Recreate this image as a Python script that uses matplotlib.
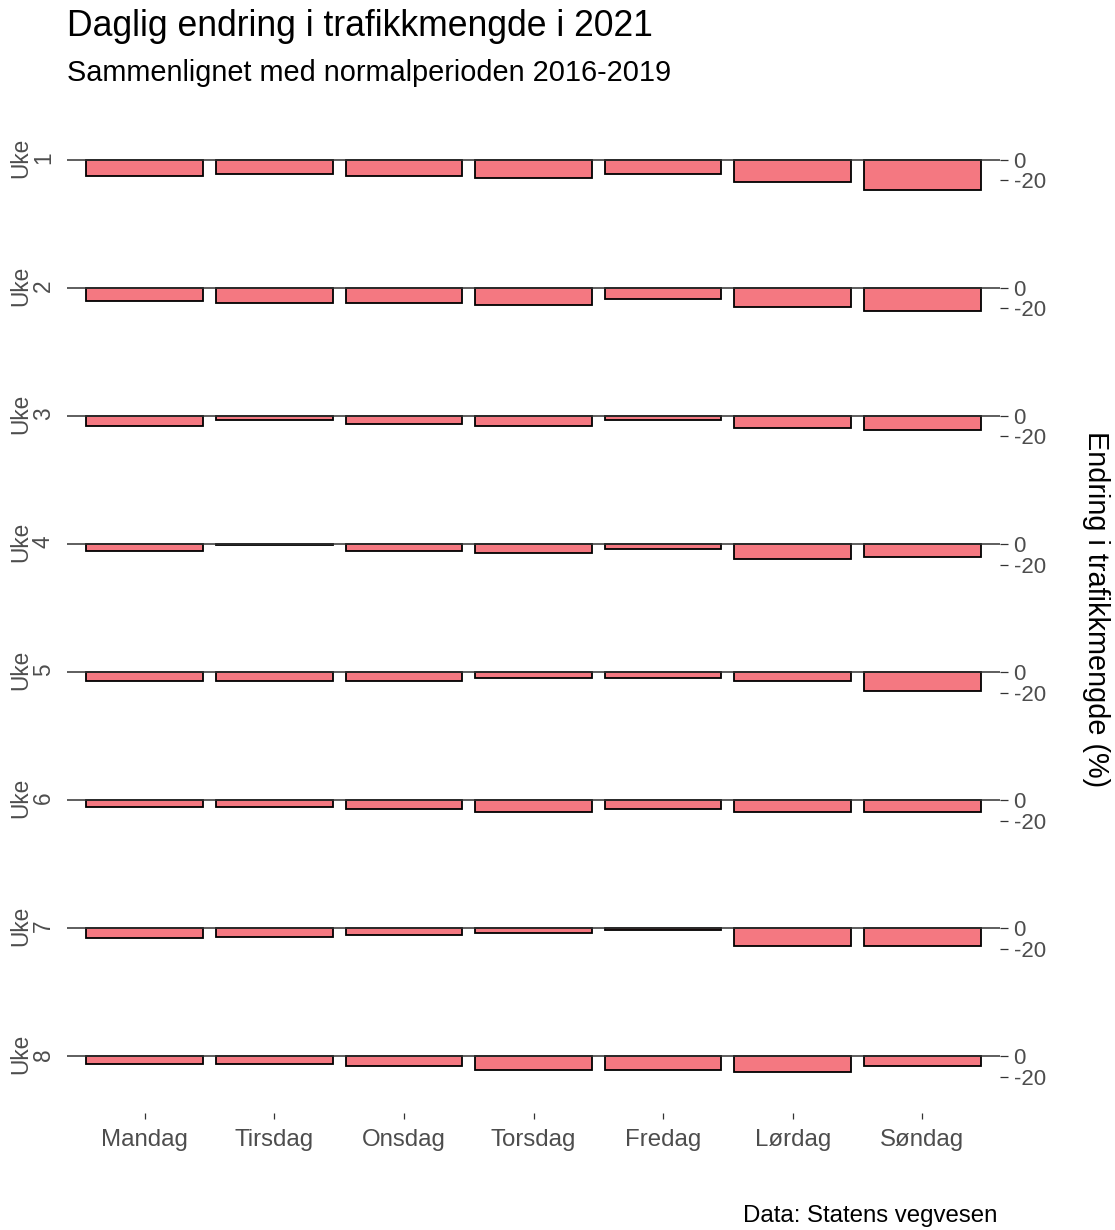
import matplotlib
matplotlib.use('Agg')
import matplotlib.pyplot as plt
import numpy as np

plt.rcParams['font.family'] = ['Liberation Sans', 'DejaVu Sans']
plt.rcParams['axes.unicode_minus'] = False

dager = ['Mandag', 'Tirsdag', 'Onsdag', 'Torsdag', 'Fredag', 'Lørdag', 'Søndag']
uker = ['1', '2', '3', '4', '5', '6', '7', '8']

# endring i prosent per dag, en liste per uke
uke1 = [-16.1, -13.5, -16.0, -18.0, -13.5, -21.6, -29.4]
uke2 = [-12.6, -14.8, -14.8, -16.5, -10.6, -18.4, -22.6]
uke3 = [-10.0, -4.2, -8.4, -10.3, -4.2, -12.3, -13.9]
uke4 = [-6.8, -1.5, -6.8, -8.7, -4.8, -14.8, -12.6]
uke5 = [-8.4, -8.4, -8.4, -6.1, -6.1, -8.4, -18.0]
uke6 = [-6.8, -6.8, -9.0, -11.3, -9.0, -11.3, -11.3]
uke7 = [-10.0, -8.4, -6.5, -4.5, -1.5, -16.8, -16.8]
uke8 = [-7.1, -7.1, -9.4, -12.9, -12.9, -15.2, -9.4]
alle_uker = [uke1, uke2, uke3, uke4, uke5, uke6, uke7, uke8]

W, H = 1115, 1230
fig = plt.figure(figsize=(W / 100.0, H / 100.0), dpi=100)

px_per_unit = 1.04
x_left, x_right = 67, 1000
first_zero = 159.5
row_step = 128.1
above = 5      # px over null-linjen
below = 57     # px under null-linjen

fill = '#F47881'
dark = '#333333'
grey = '#4D4D4D'

x = np.arange(1, 8)
for i, verdier in enumerate(alle_uker):
    y0 = first_zero + i * row_step
    top = y0 - above
    bottom = y0 + below
    ax = fig.add_axes([x_left / W, 1 - bottom / H, (x_right - x_left) / W, (bottom - top) / H])
    ax.bar(x, verdier, width=0.9, color=fill, edgecolor='black', linewidth=1.3, zorder=2)
    ax.axhline(0, color=dark, lw=1.1, zorder=3)
    ax.set_xlim(0.4, 7.6)
    ax.set_ylim(-below / px_per_unit, above / px_per_unit)
    for s in ax.spines.values():
        s.set_visible(False)
    ax.yaxis.tick_right()
    ax.set_yticks([0, -20])
    ax.set_yticklabels(['0', '-20'])
    ax.tick_params(axis='y', length=5.8, width=0.9, color=dark, pad=4,
                   labelsize=16, labelcolor=grey)
    if i == len(alle_uker) - 1:
        ax.set_xticks(x)
        ax.set_xticklabels(dager)
        ax.tick_params(axis='x', length=4.3, width=0.9, color=dark, pad=7,
                       labelsize=17.3, labelcolor=grey)
    else:
        ax.set_xticks([])
    ax.annotate('Uke\n' + uker[i], xy=(0, 0), xycoords=('axes fraction', 'data'),
                xytext=(-12, 2), textcoords='offset pixels', rotation=90,
                ha='right', va='center', multialignment='center',
                linespacing=1.0, fontsize=16.3, color=grey)

fig.text(67 / W, 1 - 36 / H, 'Daglig endring i trafikkmengde i 2021',
         fontsize=25.6, color='black', ha='left', va='baseline')
fig.text(67 / W, 1 - 81 / H, 'Sammenlignet med normalperioden 2016-2019',
         fontsize=20.8, color='black', ha='left', va='baseline')
fig.text(1096 / W, 1 - 609 / H, 'Endring i trafikkmengde (%)', rotation=-90,
         fontsize=20.8, color='black', ha='center', va='center')
fig.text(997 / W, 1 - 1222 / H, 'Data: Statens vegvesen',
         fontsize=17.3, color='black', ha='right', va='baseline')

plt.savefig('out.png', dpi=100)
